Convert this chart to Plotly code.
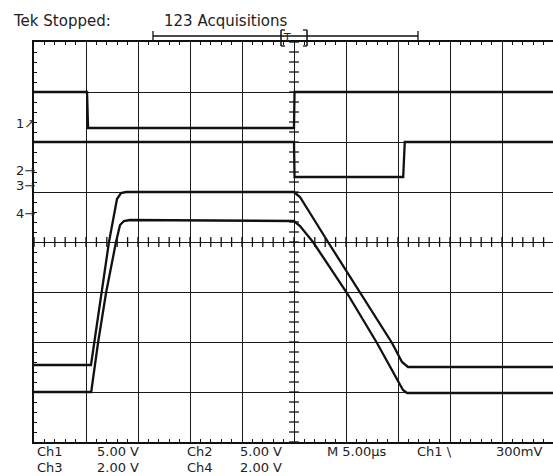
import numpy as np
import plotly.graph_objects as go

# ---- data (oscilloscope divisions: x 0..10, y 0..8) ----
ch1_x = [0.0, 1.02, 1.04, 5.0, 5.01, 9.98]
ch1_y = [7.0, 7.0, 6.28, 6.28, 7.0, 7.0]

ch2_x = [0.0, 5.0, 5.01, 7.10, 7.13, 9.98]
ch2_y = [6.0, 6.0, 5.30, 5.30, 6.0, 6.0]

ch3_x = [0.0, 1.096, 1.442, 1.596, 1.673, 1.77, 5.0, 5.115, 5.654, 6.269, 6.885, 7.077, 7.192, 9.98]
ch3_y = [1.54, 1.54, 4.0, 4.86, 4.98, 5.0, 5.0, 4.9, 4.0, 2.98, 1.98, 1.6, 1.5, 1.5]

ch4_x = [0.0, 1.10, 1.231, 1.385, 1.577, 1.654, 1.73, 1.846, 5.0, 5.115, 5.365, 6.019, 6.596, 7.096, 7.173, 9.98]
ch4_y = [1.0, 1.0, 1.98, 2.98, 4.0, 4.34, 4.42, 4.44, 4.42, 4.32, 4.0, 2.98, 1.98, 1.04, 0.98, 0.98]

bottom_row1 = ["Ch1", "5.00 V", "Ch2", "5.00 V", "M 5.00\u00b5s", "Ch1 \\", "300mV"]
bottom_row2 = ["Ch3", "2.00 V", "Ch4", "2.00 V"]
channel_marks = ["1\u2197", "2\u2192", "3\u2192", "4\u2192"]

W, H = 553, 476
L, T, B = 34, 42, 442
PW = W - L
PH = B - T
DIV_X = 52.0

def px(x):
    return (x - L) / PW

def py(y):
    return (B - y) / PH

fig = go.Figure()
INK = "#111111"
for xs, ys in [(ch1_x, ch1_y), (ch2_x, ch2_y), (ch3_x, ch3_y), (ch4_x, ch4_y)]:
    fig.add_trace(go.Scatter(x=xs, y=ys, mode="lines", line=dict(color=INK, width=2.3),
                             hoverinfo="skip", showlegend=False))

# centre-line tick marks
hx = np.arange(0, 10.01, 0.2)
fig.add_trace(go.Scatter(x=hx, y=[4] * len(hx), mode="markers",
                         marker=dict(symbol="line-ns", size=7, line=dict(color=INK, width=1.3)),
                         hoverinfo="skip", showlegend=False))
vy = np.arange(0, 8.01, 0.2)
fig.add_trace(go.Scatter(x=[5] * len(vy), y=vy, mode="markers",
                         marker=dict(symbol="line-ew", size=7, line=dict(color=INK, width=1.3)),
                         hoverinfo="skip", showlegend=False))

fig.update_xaxes(range=[0, PW / DIV_X], dtick=1, tick0=0, showgrid=True, gridcolor="#1a1a1a",
                 gridwidth=1.3, zeroline=False, showticklabels=False,
                 showline=True, linecolor=INK, linewidth=1.5, mirror="ticks",
                 ticks="", minor=dict(ticks="inside", dtick=0.2, ticklen=3, tickcolor=INK,
                                      tickwidth=1, showgrid=False))
fig.update_yaxes(range=[0, 8], dtick=1, tick0=0, showgrid=True, gridcolor="#1a1a1a",
                 gridwidth=1.3, zeroline=False, showticklabels=False,
                 showline=True, linecolor=INK, linewidth=1.5, mirror=False,
                 ticks="", minor=dict(ticks="inside", dtick=0.2, ticklen=3, tickcolor=INK,
                                      tickwidth=1, showgrid=False))

ann = []
TXT = "#222222"
FONT = "DejaVu Sans"
ann.append(dict(text="Tek Stopped:", x=px(11), y=py(21), xref="paper", yref="paper",
                xanchor="left", yanchor="middle", showarrow=False,
                font=dict(family=FONT, size=15, color=TXT)))
ann.append(dict(text="123 Acquisitions", x=px(162), y=py(21), xref="paper", yref="paper",
                xanchor="left", yanchor="middle", showarrow=False,
                font=dict(family=FONT, size=15, color=TXT)))
row1_x = [35, 95, 185, 238, 325, 415, 494]
for t, x in zip(bottom_row1, row1_x):
    ann.append(dict(text=t, x=px(x), y=py(452), xref="paper", yref="paper",
                    xanchor="left", yanchor="middle", showarrow=False,
                    font=dict(family=FONT, size=13, color=TXT)))
row2_x = [35, 95, 185, 238]
for t, x in zip(bottom_row2, row2_x):
    ann.append(dict(text=t, x=px(x), y=py(467), xref="paper", yref="paper",
                    xanchor="left", yanchor="middle", showarrow=False,
                    font=dict(family=FONT, size=13, color=TXT)))
mark_y = [123, 170, 185, 213]
for t, y in zip(channel_marks, mark_y):
    ann.append(dict(text=t, x=px(14), y=py(y), xref="paper", yref="paper",
                    xanchor="left", yanchor="middle", showarrow=False,
                    font=dict(family=FONT, size=13, color=TXT)))
ann.append(dict(text="T", x=px(287), y=py(37), xref="paper", yref="paper",
                xanchor="center", yanchor="middle", showarrow=False,
                font=dict(family=FONT, size=11, color=TXT)))

shapes = []
def seg(x0, y0, x1, y1, w=1.3):
    shapes.append(dict(type="line", xref="paper", yref="paper",
                       x0=px(x0), y0=py(y0), x1=px(x1), y1=py(y1),
                       line=dict(color=INK, width=w)))
# record bar
seg(153, 36, 418, 36)
seg(153, 31, 153, 41)
seg(418, 31, 418, 41)
# window bracket
seg(281, 30, 281, 46, 1.5)
seg(281, 30, 285, 30)
seg(281, 46, 285, 46)
seg(307, 30, 307, 46, 1.5)
seg(303, 30, 307, 30)
seg(303, 46, 307, 46)

fig.update_layout(width=W, height=H, margin=dict(l=L, r=0, t=T, b=H - B),
                  paper_bgcolor="white", plot_bgcolor="white",
                  annotations=ann, shapes=shapes, showlegend=False)
fig.write_html("out.html", config={"displayModeBar": False},
               post_script="document.body.style.margin='0';")
